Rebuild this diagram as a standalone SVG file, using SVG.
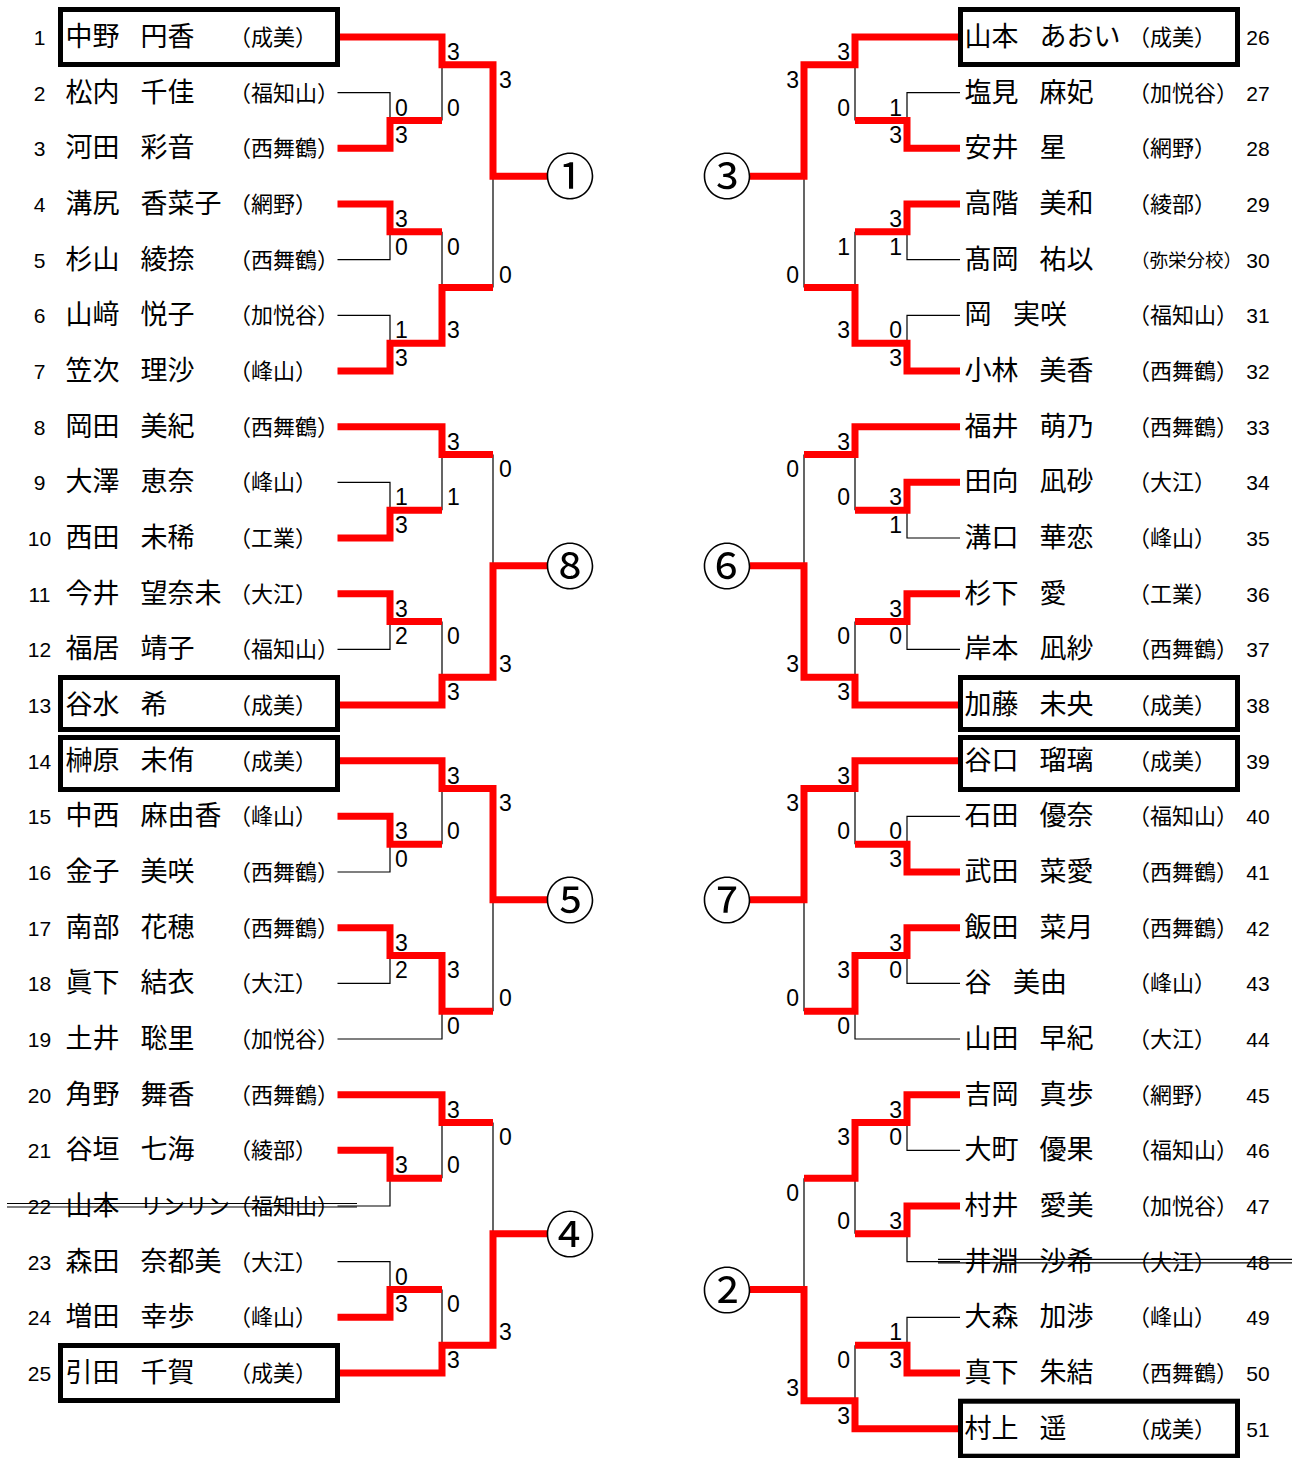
<svg xmlns="http://www.w3.org/2000/svg" width="1297" height="1458" viewBox="0 0 1297 1458">
<style>
.nm{font-family:"Noto Sans CJK JP","Noto Sans CJK SC",sans-serif;font-size:27px;fill:#000}
.nk{font-size:22.5px}
.af{font-family:"Noto Sans CJK JP","Noto Sans CJK SC",sans-serif;font-size:22px;fill:#000}
.af2{font-size:18.5px}
.no{font-family:"Liberation Sans",Arial,sans-serif;font-size:21px;text-anchor:middle;fill:#000}
.sc{font-family:"Liberation Sans",Arial,sans-serif;font-size:23px;fill:#000}
.sr{text-anchor:end}
.ci{font-family:"Noto Sans CJK JP","Noto Sans CJK SC",sans-serif;font-size:50px;text-anchor:middle;fill:#000}
.red{fill:none;stroke:#f00;stroke-width:7;stroke-linejoin:miter}
.thin{fill:none;stroke:#000;stroke-width:1.2}
.box{fill:none;stroke:#000;stroke-width:5}
.strike{fill:none;stroke:#000;stroke-width:1.2}
</style>
<rect width="1297" height="1458" fill="#fff"/>

<g id="connectors">
<g id="thin-lines" class="thin">
<path d="M337.5,92.7 H390 V120.5 M337.5,259.7 H390 V231.8 M337.5,315.3 H390 V343.2 M442,64.8 V120.5 M442,231.8 V287.5 M493,176.2 V287.5"/>
<path d="M337.5,482.3 H390 V510.2 M337.5,649.3 H390 V621.5 M442,454.5 V510.2 M442,621.5 V677.2 M493,454.5 V565.8"/>
<path d="M337.5,872 H390 V844.2 M337.5,983.3 H390 V955.5 M337.5,1039 H442 V1011.2 M442,788.5 V844.2 M493,899.8 V1011.2"/>
<path d="M337.5,1206 H390 V1178.2 M337.5,1261.7 H390 V1289.5 M442,1122.5 V1178.2 M442,1289.5 V1345.2 M493,1122.5 V1233.8"/>
<path d="M960,92.7 H907 V120.5 M960,259.7 H907 V231.8 M960,315.3 H907 V343.2 M855,64.8 V120.5 M855,231.8 V287.5 M804,176.2 V287.5"/>
<path d="M960,538 H907 V510.2 M960,649.3 H907 V621.5 M855,454.5 V510.2 M855,621.5 V677.2 M804,454.5 V565.8"/>
<path d="M960,816.3 H907 V844.2 M960,983.3 H907 V955.5 M960,1039 H855 V1011.2 M855,788.5 V844.2 M804,899.8 V1011.2"/>
<path d="M960,1150.3 H907 V1122.5 M960,1261.7 H907 V1233.8 M960,1317.3 H907 V1345.2 M855,1178.2 V1233.8 M855,1345.2 V1400.8 M804,1178.2 V1289.5"/>
</g>
<g id="winner-lines" class="red">
<path d="M337.5,37 H442 V64.8 H493 V176.2 H547"/>
<path d="M337.5,148.3 H390 V120.5 H442"/>
<path d="M337.5,204 H390 V231.8 H442"/>
<path d="M337.5,371 H390 V343.2 H442 V287.5 H493"/>
<path d="M337.5,426.7 H442 V454.5 H493"/>
<path d="M337.5,538 H390 V510.2 H442"/>
<path d="M337.5,593.7 H390 V621.5 H442"/>
<path d="M337.5,705 H442 V677.2 H493 V565.8 H547"/>
<path d="M337.5,760.7 H442 V788.5 H493 V899.8 H547"/>
<path d="M337.5,816.3 H390 V844.2 H442"/>
<path d="M337.5,927.7 H390 V955.5 H442 V1011.2 H493"/>
<path d="M337.5,1094.7 H442 V1122.5 H493"/>
<path d="M337.5,1150.3 H390 V1178.2 H442"/>
<path d="M337.5,1317.3 H390 V1289.5 H442"/>
<path d="M337.5,1373 H442 V1345.2 H493 V1233.8 H547"/>
<path d="M960,37 H855 V64.8 H804 V176.2 H750"/>
<path d="M960,148.3 H907 V120.5 H855"/>
<path d="M960,204 H907 V231.8 H855"/>
<path d="M960,371 H907 V343.2 H855 V287.5 H804"/>
<path d="M960,426.7 H855 V454.5 H804"/>
<path d="M960,482.3 H907 V510.2 H855"/>
<path d="M960,593.7 H907 V621.5 H855"/>
<path d="M960,705 H855 V677.2 H804 V565.8 H750"/>
<path d="M960,760.7 H855 V788.5 H804 V899.8 H750"/>
<path d="M960,872 H907 V844.2 H855"/>
<path d="M960,927.7 H907 V955.5 H855 V1011.2 H804"/>
<path d="M960,1094.7 H907 V1122.5 H855 V1178.2 H804"/>
<path d="M960,1206 H907 V1233.8 H855"/>
<path d="M960,1373 H907 V1345.2 H855"/>
<path d="M960,1428.7 H855 V1400.8 H804 V1289.5 H750"/>
</g>
<g id="scores" class="sc">
<text x="395" y="115.6">0</text><text x="395" y="143.4">3</text><text x="395" y="226.9">3</text><text x="395" y="254.8">0</text><text x="395" y="338.2">1</text><text x="395" y="366.1">3</text>
<text x="447" y="59.9">3</text><text x="447" y="115.6">0</text><text x="447" y="254.8">0</text><text x="447" y="338.2">3</text><text x="499" y="87.7">3</text><text x="499" y="282.6">0</text>
<text x="395" y="505.2">1</text><text x="395" y="533.1">3</text><text x="395" y="616.6">3</text><text x="395" y="644.4">2</text>
<text x="447" y="449.6">3</text><text x="447" y="505.2">1</text><text x="447" y="644.4">0</text><text x="447" y="700.1">3</text><text x="499" y="477.4">0</text><text x="499" y="672.3">3</text>
<text x="395" y="839.2">3</text><text x="395" y="867.1">0</text><text x="395" y="950.6">3</text><text x="395" y="978.4">2</text>
<text x="447" y="783.6">3</text><text x="447" y="839.2">0</text><text x="447" y="978.4">3</text><text x="447" y="1034.1">0</text><text x="499" y="811.4">3</text><text x="499" y="1006.3">0</text>
<text x="395" y="1173.2">3</text><text x="395" y="1284.6">0</text><text x="395" y="1312.4">3</text>
<text x="447" y="1117.6">3</text><text x="447" y="1173.2">0</text><text x="447" y="1312.4">0</text><text x="447" y="1368.1">3</text><text x="499" y="1145.4">0</text><text x="499" y="1340.3">3</text>
<g class="sr">
<text x="902" y="115.6">1</text><text x="902" y="143.4">3</text><text x="902" y="226.9">3</text><text x="902" y="254.8">1</text><text x="902" y="338.2">0</text><text x="902" y="366.1">3</text>
<text x="850" y="59.9">3</text><text x="850" y="115.6">0</text><text x="850" y="254.8">1</text><text x="850" y="338.2">3</text><text x="799" y="87.7">3</text><text x="799" y="282.6">0</text>
<text x="902" y="505.2">3</text><text x="902" y="533.1">1</text><text x="902" y="616.6">3</text><text x="902" y="644.4">0</text>
<text x="850" y="449.6">3</text><text x="850" y="505.2">0</text><text x="850" y="644.4">0</text><text x="850" y="700.1">3</text><text x="799" y="477.4">0</text><text x="799" y="672.3">3</text>
<text x="902" y="839.2">0</text><text x="902" y="867.1">3</text><text x="902" y="950.6">3</text><text x="902" y="978.4">0</text>
<text x="850" y="783.6">3</text><text x="850" y="839.2">0</text><text x="850" y="978.4">3</text><text x="850" y="1034.1">0</text><text x="799" y="811.4">3</text><text x="799" y="1006.3">0</text>
<text x="902" y="1117.6">3</text><text x="902" y="1145.4">0</text><text x="902" y="1228.9">3</text><text x="902" y="1340.2">1</text><text x="902" y="1368.1">3</text>
<text x="850" y="1145.4">3</text><text x="850" y="1228.9">0</text><text x="850" y="1368.1">0</text><text x="850" y="1423.7">3</text><text x="799" y="1201.1">0</text><text x="799" y="1395.9">3</text>
</g>
</g>
</g>

<g id="results">
<g id="r1"><text class="ci" x="570" y="195">①</text></g>
<g id="r8"><text class="ci" x="570" y="585">⑧</text></g>
<g id="r5"><text class="ci" x="570" y="919">⑤</text></g>
<g id="r4"><text class="ci" x="570" y="1253">④</text></g>
<g id="r3"><text class="ci" x="727" y="195">③</text></g>
<g id="r6"><text class="ci" x="727" y="585">⑥</text></g>
<g id="r7"><text class="ci" x="727" y="919">⑦</text></g>
<g id="r2"><text class="ci" x="727" y="1309">②</text></g>
</g>

<g id="players-left">
<g id="p1"><rect class="box" x="60.5" y="9.5" width="277" height="55"/><text class="no" x="39.5" y="45">1</text><text class="nm" y="46"><tspan x="65.5">中野 </tspan><tspan x="140.5">円香</tspan></text><text class="af" x="229" y="45">（成美）</text></g>
<g id="p2"><text class="no" x="39.5" y="100.7">2</text><text class="nm" y="101.7"><tspan x="65.5">松内 </tspan><tspan x="140.5">千佳</tspan></text><text class="af" x="229" y="100.7">（福知山）</text></g>
<g id="p3"><text class="no" x="39.5" y="156.3">3</text><text class="nm" y="157.3"><tspan x="65.5">河田 </tspan><tspan x="140.5">彩音</tspan></text><text class="af" x="229" y="156.3">（西舞鶴）</text></g>
<g id="p4"><text class="no" x="39.5" y="212">4</text><text class="nm" y="213"><tspan x="65.5">溝尻 </tspan><tspan x="140.5">香菜子</tspan></text><text class="af" x="229" y="212">（網野）</text></g>
<g id="p5"><text class="no" x="39.5" y="267.7">5</text><text class="nm" y="268.7"><tspan x="65.5">杉山 </tspan><tspan x="140.5">綾捺</tspan></text><text class="af" x="229" y="267.7">（西舞鶴）</text></g>
<g id="p6"><text class="no" x="39.5" y="323.3">6</text><text class="nm" y="324.3"><tspan x="65.5">山﨑 </tspan><tspan x="140.5">悦子</tspan></text><text class="af" x="229" y="323.3">（加悦谷）</text></g>
<g id="p7"><text class="no" x="39.5" y="379">7</text><text class="nm" y="380"><tspan x="65.5">笠次 </tspan><tspan x="140.5">理沙</tspan></text><text class="af" x="229" y="379">（峰山）</text></g>
<g id="p8"><text class="no" x="39.5" y="434.7">8</text><text class="nm" y="435.7"><tspan x="65.5">岡田 </tspan><tspan x="140.5">美紀</tspan></text><text class="af" x="229" y="434.7">（西舞鶴）</text></g>
<g id="p9"><text class="no" x="39.5" y="490.3">9</text><text class="nm" y="491.3"><tspan x="65.5">大澤 </tspan><tspan x="140.5">恵奈</tspan></text><text class="af" x="229" y="490.3">（峰山）</text></g>
<g id="p10"><text class="no" x="39.5" y="546">10</text><text class="nm" y="547"><tspan x="65.5">西田 </tspan><tspan x="140.5">未稀</tspan></text><text class="af" x="229" y="546">（工業）</text></g>
<g id="p11"><text class="no" x="39.5" y="601.7">11</text><text class="nm" y="602.7"><tspan x="65.5">今井 </tspan><tspan x="140.5">望奈未</tspan></text><text class="af" x="229" y="601.7">（大江）</text></g>
<g id="p12"><text class="no" x="39.5" y="657.3">12</text><text class="nm" y="658.3"><tspan x="65.5">福居 </tspan><tspan x="140.5">靖子</tspan></text><text class="af" x="229" y="657.3">（福知山）</text></g>
<g id="p13"><rect class="box" x="60.5" y="677.5" width="277" height="52"/><text class="no" x="39.5" y="713">13</text><text class="nm" y="714"><tspan x="65.5">谷水 </tspan><tspan x="140.5">希</tspan></text><text class="af" x="229" y="713">（成美）</text></g>
<g id="p14"><rect class="box" x="60.5" y="737.5" width="277" height="52"/><text class="no" x="39.5" y="768.7">14</text><text class="nm" y="769.7"><tspan x="65.5">榊原 </tspan><tspan x="140.5">未侑</tspan></text><text class="af" x="229" y="768.7">（成美）</text></g>
<g id="p15"><text class="no" x="39.5" y="824.3">15</text><text class="nm" y="825.3"><tspan x="65.5">中西 </tspan><tspan x="140.5">麻由香</tspan></text><text class="af" x="229" y="824.3">（峰山）</text></g>
<g id="p16"><text class="no" x="39.5" y="880">16</text><text class="nm" y="881"><tspan x="65.5">金子 </tspan><tspan x="140.5">美咲</tspan></text><text class="af" x="229" y="880">（西舞鶴）</text></g>
<g id="p17"><text class="no" x="39.5" y="935.7">17</text><text class="nm" y="936.7"><tspan x="65.5">南部 </tspan><tspan x="140.5">花穂</tspan></text><text class="af" x="229" y="935.7">（西舞鶴）</text></g>
<g id="p18"><text class="no" x="39.5" y="991.3">18</text><text class="nm" y="992.3"><tspan x="65.5">眞下 </tspan><tspan x="140.5">結衣</tspan></text><text class="af" x="229" y="991.3">（大江）</text></g>
<g id="p19"><text class="no" x="39.5" y="1047">19</text><text class="nm" y="1048"><tspan x="65.5">土井 </tspan><tspan x="140.5">聡里</tspan></text><text class="af" x="229" y="1047">（加悦谷）</text></g>
<g id="p20"><text class="no" x="39.5" y="1102.7">20</text><text class="nm" y="1103.7"><tspan x="65.5">角野 </tspan><tspan x="140.5">舞香</tspan></text><text class="af" x="229" y="1102.7">（西舞鶴）</text></g>
<g id="p21"><text class="no" x="39.5" y="1158.3">21</text><text class="nm" y="1159.3"><tspan x="65.5">谷垣 </tspan><tspan x="140.5">七海</tspan></text><text class="af" x="229" y="1158.3">（綾部）</text></g>
<g id="p22"><text class="no" x="39.5" y="1214">22</text><text class="nm" x="65.5" y="1215">山本</text><text class="nm nk" x="140" y="1214">リンリン</text><text class="af" x="229" y="1214">（福知山）</text><path class="strike" d="M7,1203.5 H357 M7,1207 H357"/></g>
<g id="p23"><text class="no" x="39.5" y="1269.7">23</text><text class="nm" y="1270.7"><tspan x="65.5">森田 </tspan><tspan x="140.5">奈都美</tspan></text><text class="af" x="229" y="1269.7">（大江）</text></g>
<g id="p24"><text class="no" x="39.5" y="1325.3">24</text><text class="nm" y="1326.3"><tspan x="65.5">増田 </tspan><tspan x="140.5">幸歩</tspan></text><text class="af" x="229" y="1325.3">（峰山）</text></g>
<g id="p25"><rect class="box" x="60.5" y="1345.5" width="277" height="55"/><text class="no" x="39.5" y="1381">25</text><text class="nm" y="1382"><tspan x="65.5">引田 </tspan><tspan x="140.5">千賀</tspan></text><text class="af" x="229" y="1381">（成美）</text></g>
</g>

<g id="players-right">
<g id="p26"><rect class="box" x="960.5" y="9.5" width="277" height="55"/><text class="nm" y="46"><tspan x="964.5">山本 </tspan><tspan x="1039.5">あおい</tspan></text><text class="af" x="1128" y="45">（成美）</text><text class="no" x="1258" y="45">26</text></g>
<g id="p27"><text class="nm" y="101.7"><tspan x="964.5">塩見 </tspan><tspan x="1039.5">麻妃</tspan></text><text class="af" x="1128" y="100.7">（加悦谷）</text><text class="no" x="1258" y="100.7">27</text></g>
<g id="p28"><text class="nm" y="157.3"><tspan x="964.5">安井 </tspan><tspan x="1039.5">星</tspan></text><text class="af" x="1128" y="156.3">（網野）</text><text class="no" x="1258" y="156.3">28</text></g>
<g id="p29"><text class="nm" y="213"><tspan x="964.5">高階 </tspan><tspan x="1039.5">美和</tspan></text><text class="af" x="1128" y="212">（綾部）</text><text class="no" x="1258" y="212">29</text></g>
<g id="p30"><text class="nm" y="268.7"><tspan x="964.5">髙岡 </tspan><tspan x="1039.5">祐以</tspan></text><text class="af af2" x="1131" y="266.7">（弥栄分校）</text><text class="no" x="1258" y="267.7">30</text></g>
<g id="p31"><text class="nm" y="324.3"><tspan x="964.5">岡 </tspan><tspan x="1013">実咲</tspan></text><text class="af" x="1128" y="323.3">（福知山）</text><text class="no" x="1258" y="323.3">31</text></g>
<g id="p32"><text class="nm" y="380"><tspan x="964.5">小林 </tspan><tspan x="1039.5">美香</tspan></text><text class="af" x="1128" y="379">（西舞鶴）</text><text class="no" x="1258" y="379">32</text></g>
<g id="p33"><text class="nm" y="435.7"><tspan x="964.5">福井 </tspan><tspan x="1039.5">萌乃</tspan></text><text class="af" x="1128" y="434.7">（西舞鶴）</text><text class="no" x="1258" y="434.7">33</text></g>
<g id="p34"><text class="nm" y="491.3"><tspan x="964.5">田向 </tspan><tspan x="1039.5">凪砂</tspan></text><text class="af" x="1128" y="490.3">（大江）</text><text class="no" x="1258" y="490.3">34</text></g>
<g id="p35"><text class="nm" y="547"><tspan x="964.5">溝口 </tspan><tspan x="1039.5">華恋</tspan></text><text class="af" x="1128" y="546">（峰山）</text><text class="no" x="1258" y="546">35</text></g>
<g id="p36"><text class="nm" y="602.7"><tspan x="964.5">杉下 </tspan><tspan x="1039.5">愛</tspan></text><text class="af" x="1128" y="601.7">（工業）</text><text class="no" x="1258" y="601.7">36</text></g>
<g id="p37"><text class="nm" y="658.3"><tspan x="964.5">岸本 </tspan><tspan x="1039.5">凪紗</tspan></text><text class="af" x="1128" y="657.3">（西舞鶴）</text><text class="no" x="1258" y="657.3">37</text></g>
<g id="p38"><rect class="box" x="960.5" y="677.5" width="277" height="52"/><text class="nm" y="714"><tspan x="964.5">加藤 </tspan><tspan x="1039.5">未央</tspan></text><text class="af" x="1128" y="713">（成美）</text><text class="no" x="1258" y="713">38</text></g>
<g id="p39"><rect class="box" x="960.5" y="737.5" width="277" height="52"/><text class="nm" y="769.7"><tspan x="964.5">谷口 </tspan><tspan x="1039.5">瑠璃</tspan></text><text class="af" x="1128" y="768.7">（成美）</text><text class="no" x="1258" y="768.7">39</text></g>
<g id="p40"><text class="nm" y="825.3"><tspan x="964.5">石田 </tspan><tspan x="1039.5">優奈</tspan></text><text class="af" x="1128" y="824.3">（福知山）</text><text class="no" x="1258" y="824.3">40</text></g>
<g id="p41"><text class="nm" y="881"><tspan x="964.5">武田 </tspan><tspan x="1039.5">菜愛</tspan></text><text class="af" x="1128" y="880">（西舞鶴）</text><text class="no" x="1258" y="880">41</text></g>
<g id="p42"><text class="nm" y="936.7"><tspan x="964.5">飯田 </tspan><tspan x="1039.5">菜月</tspan></text><text class="af" x="1128" y="935.7">（西舞鶴）</text><text class="no" x="1258" y="935.7">42</text></g>
<g id="p43"><text class="nm" y="992.3"><tspan x="964.5">谷 </tspan><tspan x="1013">美由</tspan></text><text class="af" x="1128" y="991.3">（峰山）</text><text class="no" x="1258" y="991.3">43</text></g>
<g id="p44"><text class="nm" y="1048"><tspan x="964.5">山田 </tspan><tspan x="1039.5">早紀</tspan></text><text class="af" x="1128" y="1047">（大江）</text><text class="no" x="1258" y="1047">44</text></g>
<g id="p45"><text class="nm" y="1103.7"><tspan x="964.5">吉岡 </tspan><tspan x="1039.5">真歩</tspan></text><text class="af" x="1128" y="1102.7">（網野）</text><text class="no" x="1258" y="1102.7">45</text></g>
<g id="p46"><text class="nm" y="1159.3"><tspan x="964.5">大町 </tspan><tspan x="1039.5">優果</tspan></text><text class="af" x="1128" y="1158.3">（福知山）</text><text class="no" x="1258" y="1158.3">46</text></g>
<g id="p47"><text class="nm" y="1215"><tspan x="964.5">村井 </tspan><tspan x="1039.5">愛美</tspan></text><text class="af" x="1128" y="1214">（加悦谷）</text><text class="no" x="1258" y="1214">47</text></g>
<g id="p48"><text class="nm" y="1270.7"><tspan x="964.5">井淵 </tspan><tspan x="1039.5">沙希</tspan></text><text class="af" x="1128" y="1269.7">（大江）</text><text class="no" x="1258" y="1269.7">48</text><path class="strike" d="M938,1259.3 H1292 M938,1262.8 H1292"/></g>
<g id="p49"><text class="nm" y="1326.3"><tspan x="964.5">大森 </tspan><tspan x="1039.5">加渉</tspan></text><text class="af" x="1128" y="1325.3">（峰山）</text><text class="no" x="1258" y="1325.3">49</text></g>
<g id="p50"><text class="nm" y="1382"><tspan x="964.5">真下 </tspan><tspan x="1039.5">朱結</tspan></text><text class="af" x="1128" y="1381">（西舞鶴）</text><text class="no" x="1258" y="1381">50</text></g>
<g id="p51"><rect class="box" x="960.5" y="1401.2" width="277" height="55"/><text class="nm" y="1437.7"><tspan x="964.5">村上 </tspan><tspan x="1039.5">遥</tspan></text><text class="af" x="1128" y="1436.7">（成美）</text><text class="no" x="1258" y="1436.7">51</text></g>
</g>
</svg>
